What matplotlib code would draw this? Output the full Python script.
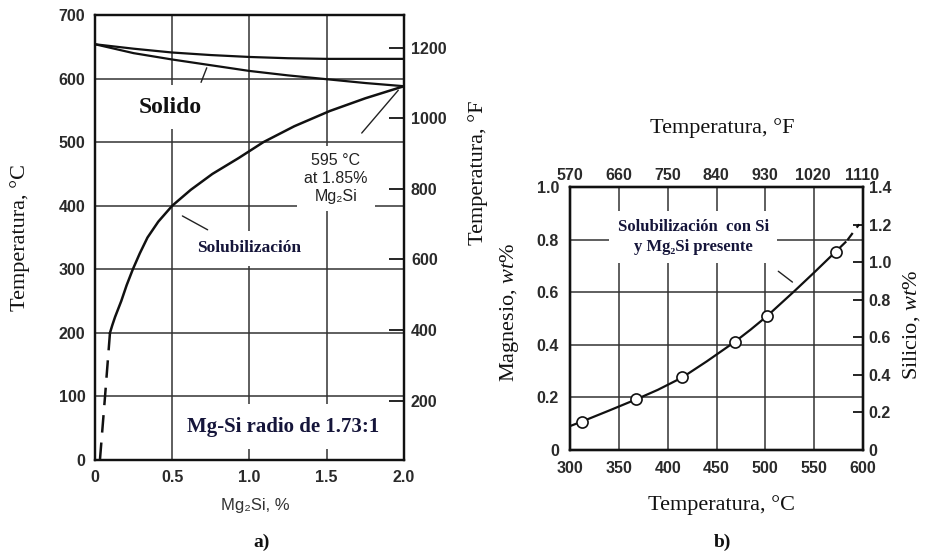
import numpy as np
import matplotlib
matplotlib.use('Agg')
from matplotlib import pyplot as plt

plt.rcParams['mathtext.fontset'] = 'custom'
plt.rcParams['mathtext.rm'] = 'Liberation Serif'
plt.rcParams['mathtext.it'] = 'Liberation Serif:italic'

SERIF = 'Liberation Serif'
SANS = ['Liberation Sans', 'DejaVu Sans']
NAVY = '#15153a'
INK = '#111111'

# ---- panel a) Al-Mg2Si pseudo-binary ----
liq_x = [0, 0.25, 0.5, 0.75, 1.0, 1.25, 1.5, 1.75, 2.0]
liq_T = [654, 647, 641, 637, 634, 632, 631, 631, 631]
sol_x = [0, 0.25, 0.5, 0.75, 1.0, 1.25, 1.5, 1.75, 2.0]
sol_T = [654, 640, 630, 621, 612, 605, 599, 593, 588]
solvus_x = [0.097, 0.112, 0.13, 0.17, 0.205, 0.245, 0.29, 0.34, 0.41, 0.5, 0.62,
            0.76, 0.93, 1.09, 1.29, 1.52, 1.75, 2.0]
solvus_T = [200, 212, 225, 250, 275, 300, 325, 350, 375, 400, 425,
            450, 475, 500, 525, 549, 569, 588]
solvus_dash_x = [0.032, 0.065, 0.097]
solvus_dash_T = [0, 100, 200]

a_xticks = [0, 0.5, 1.0, 1.5, 2.0]
a_xlabels = ['0', '0.5', '1.0', '1.5', '2.0']
a_yticks = [0, 100, 200, 300, 400, 500, 600, 700]
a_fticks = [200, 400, 600, 800, 1000, 1200]

# ---- panel b) solubility with Si and Mg2Si ----
pts_T = [312, 368, 415, 469, 502, 572]
pts_Mg = [0.108, 0.193, 0.276, 0.412, 0.51, 0.754]
curve_T = [300, 312, 340, 368, 390, 415, 440, 469, 485, 502, 530, 550, 572, 582]
curve_Mg = [0.091, 0.108, 0.150, 0.193, 0.229, 0.276, 0.337, 0.412, 0.458,
            0.51, 0.605, 0.675, 0.754, 0.79]
tail_T = [584, 596]
tail_Mg = [0.798, 0.858]

b_xticks = [300, 350, 400, 450, 500, 550, 600]
b_yticks = [0, 0.2, 0.4, 0.6, 0.8, 1.0]
b_ylabels = ['0', '0.2', '0.4', '0.6', '0.8', '1.0']
b_fticks = [570, 660, 750, 840, 930, 1020, 1110]
b_siticks = [0, 0.2, 0.4, 0.6, 0.8, 1.0, 1.2, 1.4]
b_silabels = ['0', '0.2', '0.4', '0.6', '0.8', '1.0', '1.2', '1.4']

tick_color = '#2a2a2a'


def style_ticks(ax, size=11.5):
    for lab in ax.get_xticklabels() + ax.get_yticklabels():
        lab.set_fontfamily(SANS)
        lab.set_fontweight('bold')
        lab.set_fontsize(size)
        lab.set_color(tick_color)


def style_spines(ax, lw):
    for s in ax.spines.values():
        s.set_linewidth(lw)
        s.set_color(INK)


fig = plt.figure(figsize=(9.34, 5.56), dpi=100)

# ================= a) =================
ax1 = fig.add_axes([0.1017, 0.1727, 0.3308, 0.8003])
ax1.set_xlim(0, 2.0)
ax1.set_ylim(0, 700)
ax1.set_xticks(a_xticks)
ax1.set_xticklabels(a_xlabels)
ax1.set_yticks(a_yticks)
ax1.tick_params(length=0, pad=7)
ax1.grid(True, color='#333333', lw=1.1)
style_spines(ax1, 1.6)
style_ticks(ax1)

ax1.plot(liq_x, liq_T, color=INK, lw=1.6, zorder=3)
ax1.plot(sol_x, sol_T, color=INK, lw=1.6, zorder=3)
ax1.plot(solvus_x, solvus_T, color=INK, lw=1.8, zorder=3)
ax1.plot(solvus_dash_x, solvus_dash_T, color=INK, lw=1.8, ls=(0, (7, 4)), zorder=3)

ax1r = ax1.twinx()
ax1r.set_ylim(32, 700 * 9 / 5 + 32)
ax1r.set_yticks(a_fticks)
ax1r.tick_params(direction='in', length=11, width=1.2, pad=5)
style_spines(ax1r, 1.6)
style_ticks(ax1r)

box = dict(boxstyle='square,pad=0.5', fc='white', ec='none')
ax1.text(0.485, 555, 'Solido', ha='center', va='center', family=SERIF,
         weight='bold', size=17, color=INK, bbox=box, zorder=4)
ax1.annotate('', xy=(0.73, 621), xytext=(0.68, 590),
             arrowprops=dict(arrowstyle='-', color='#222', lw=1.0), zorder=4)

ax1.text(1.56, 443, '595 °C\nat 1.85%\nMg₂Si', ha='center', va='center',
         family=SANS, size=11.5, color='#222', linespacing=1.25,
         bbox=dict(boxstyle='square,pad=0.45', fc='white', ec='none'), zorder=4)
ax1.annotate('', xy=(1.975, 585), xytext=(1.715, 511),
             arrowprops=dict(arrowstyle='-', color='#222', lw=1.0), zorder=4)

ax1.text(1.0, 333, 'Solubilización', ha='center', va='center', family=SERIF,
         weight='bold', size=12.5, color=NAVY,
         bbox=dict(boxstyle='square,pad=0.55', fc='white', ec='none'), zorder=4)
ax1.annotate('', xy=(0.55, 386), xytext=(0.745, 360),
             arrowprops=dict(arrowstyle='-', color='#222', lw=1.0), zorder=4)

ax1.text(1.22, 52, 'Mg-Si radio de 1.73:1', ha='center', va='center', family=SERIF,
         weight='bold', size=15, color=NAVY,
         bbox=dict(boxstyle='square,pad=0.6', fc='white', ec='none'), zorder=4)

fig.text(0.0214, 0.572, 'Temperatura, °C', rotation=90, ha='center', va='center',
         family=SERIF, size=16, color=INK)
fig.text(0.5118, 0.69, 'Temperatura, °F', rotation=90, ha='center', va='center',
         family=SERIF, size=16, color=INK)
fig.text(0.273, 0.0917, 'Mg₂Si, %', ha='center', va='center', family=SANS,
         size=12, color='#333')
fig.text(0.2805, 0.025, 'a)', ha='center', va='center', family=SERIF,
         weight='bold', size=14, color=INK)

# ================= b) =================
ax2 = fig.add_axes([0.6103, 0.1906, 0.3137, 0.4731])
ax2.set_xlim(300, 600)
ax2.set_ylim(0, 1.0)
ax2.set_xticks(b_xticks)
ax2.set_yticks(b_yticks)
ax2.set_yticklabels(b_ylabels)
ax2.tick_params(length=0, pad=8)
ax2.grid(True, color='#333333', lw=1.1)
style_spines(ax2, 1.6)
style_ticks(ax2)

ax2.plot(curve_T, curve_Mg, color=INK, lw=1.6, zorder=3)
ax2.plot(tail_T, tail_Mg, color=INK, lw=1.6, ls=(0, (4, 3)), zorder=3)
ax2.plot(pts_T, pts_Mg, ls='none', marker='o', ms=8, mfc='white', mec=INK,
         mew=1.2, zorder=5)

ax2t = ax2.twiny()
ax2t.set_xlim(300 * 9 / 5 + 32, 600 * 9 / 5 + 32)
ax2t.set_xticks(b_fticks)
ax2t.tick_params(length=0, pad=3)
style_spines(ax2t, 1.6)
style_ticks(ax2t)

ax2r = ax2.twinx()
ax2r.set_ylim(0, 1.4)
ax2r.set_yticks(b_siticks)
ax2r.set_yticklabels(b_silabels)
ax2r.tick_params(direction='in', length=7, width=1.2, pad=4)
style_spines(ax2r, 1.6)
style_ticks(ax2r)

ax2.text(426, 0.81, 'Solubilización  con Si\ny Mg₂Si presente', ha='center',
         va='center', family=[SERIF, 'DejaVu Serif'], weight='bold', size=12,
         color=NAVY, linespacing=1.35,
         bbox=dict(boxstyle='square,pad=0.5', fc='white', ec='none'), zorder=4)
ax2.annotate('', xy=(530, 0.632), xytext=(511, 0.686),
             arrowprops=dict(arrowstyle='-', color='#222', lw=1.0), zorder=4)

fig.text(0.773, 0.770, 'Temperatura, °F', ha='center', va='center',
         family=SERIF, size=16, color=INK)
fig.text(0.773, 0.0917, 'Temperatura, °C', ha='center', va='center',
         family=SERIF, size=16, color=INK)
fig.text(0.546, 0.439, 'Magnesio, $\\mathit{wt}$%', rotation=90, ha='center',
         va='center', family=SERIF, size=16, color=INK)
fig.text(0.976, 0.4155, 'Silicio, $\\mathit{wt}$%', rotation=90, ha='center',
         va='center', family=SERIF, size=16, color=INK)
fig.text(0.773, 0.025, 'b)', ha='center', va='center', family=SERIF,
         weight='bold', size=14, color=INK)

fig.savefig('out.png', dpi=100, facecolor='white')
